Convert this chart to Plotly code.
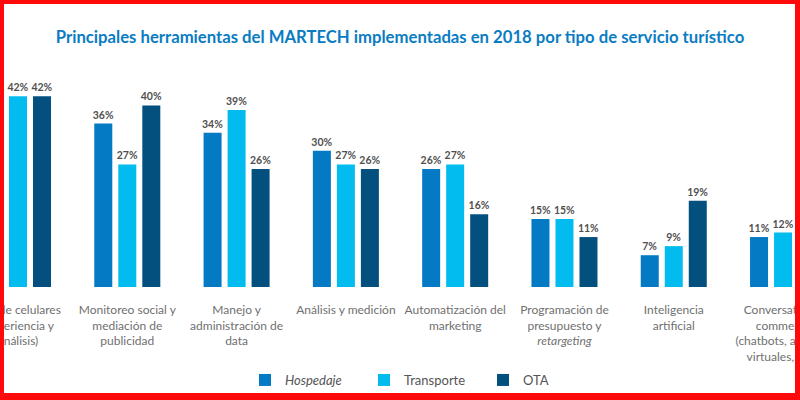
import plotly.graph_objects as go

categories = [
    "Uso de celulares<br>(experiencia y<br>análisis)",
    "Monitoreo social y<br>mediación de<br>publicidad",
    "Manejo y<br>administración de<br>data",
    "Análisis y medición",
    "Automatización del<br>marketing",
    "Programación de<br>presupuesto y<br><i>retargeting</i>",
    "Inteligencia<br>artificial",
    "Conversational<br>commerce<br>(chatbots, agentes<br>virtuales, etc.)",
]
hospedaje = [43, 36, 34, 30, 26, 15, 7, 11]
transporte = [42, 27, 39, 27, 27, 15, 9, 12]
ota = [42, 40, 26, 26, 16, 11, 19, 10]

series = [
    ("<i>Hospedaje</i>", hospedaje, "#0479c4"),
    ("Transporte", transporte, "#02bcf0"),
    ("OTA", ota, "#03507f"),
]

FONT = "Lato"
fig = go.Figure()
for name, vals, color in series:
    fig.add_trace(go.Bar(
        x=list(range(len(categories))), y=vals, name=name,
        marker=dict(color=color, line=dict(width=0)),
        text=[f"{v}%" for v in vals], textposition="outside",
        constraintext="none",
        textfont=dict(family=FONT, size=10.5, color="#505050", weight="bold"),
        cliponaxis=False,
    ))

W, H = 800, 400
T, B = 60, 113
PH = H - T - B

def py(p):
    return (H - B - p) / PH

border = "#ff0a0a"
shapes = [
    dict(type="rect", xref="paper", yref="paper", x0=-0.01, x1=1.01, y0=py(4), y1=py(-2), fillcolor=border, line=dict(width=0), layer="above"),
    dict(type="rect", xref="paper", yref="paper", x0=-0.01, x1=1.01, y0=py(402), y1=py(393), fillcolor=border, line=dict(width=0), layer="above"),
    dict(type="rect", xref="paper", yref="paper", x0=-0.01, x1=4 / W, y0=py(402), y1=py(-2), fillcolor=border, line=dict(width=0), layer="above"),
    dict(type="rect", xref="paper", yref="paper", x0=795 / W, x1=1.01, y0=py(402), y1=py(-2), fillcolor=border, line=dict(width=0), layer="above"),
]

fig.update_layout(
    width=W, height=H,
    margin=dict(l=0, r=0, t=T, b=B, autoexpand=False),
    paper_bgcolor="white", plot_bgcolor="white",
    barmode="group", bargap=0.341, bargroupgap=0.25,
    title=dict(
        text="<b>Principales herramientas del MARTECH implementadas en 2018 por tipo de servicio turístico</b>",
        x=0.5, xanchor="center", y=1 - 37 / H, yanchor="middle",
        font=dict(family=FONT, size=16.7, color="#0a7cc2"),
    ),
    xaxis=dict(
        range=[-0.1647, 7.155], tickmode="array",
        tickvals=list(range(len(categories))), ticktext=categories,
        showgrid=False, zeroline=False, showline=False, ticks="",
        ticklabeloverflow="allow", ticklabelstandoff=14, tickangle=0,
        automargin=False,
        tickfont=dict(family=FONT, size=12, color="#707070"),
    ),
    yaxis=dict(range=[0, 50], visible=False, automargin=False),
    showlegend=True,
    legend=dict(
        orientation="h", x=245 / W, xanchor="left", y=py(380), yanchor="middle",
        font=dict(family=FONT, size=13, color="#555555"),
        bgcolor="rgba(0,0,0,0)",
        entrywidth=74, entrywidthmode="pixels", traceorder="normal",
    ),
    shapes=shapes,
)

fig.write_html(
    "out.html",
    config={"displayModeBar": False},
    post_script="document.body.style.margin='0';document.body.style.overflow='hidden';",
)
